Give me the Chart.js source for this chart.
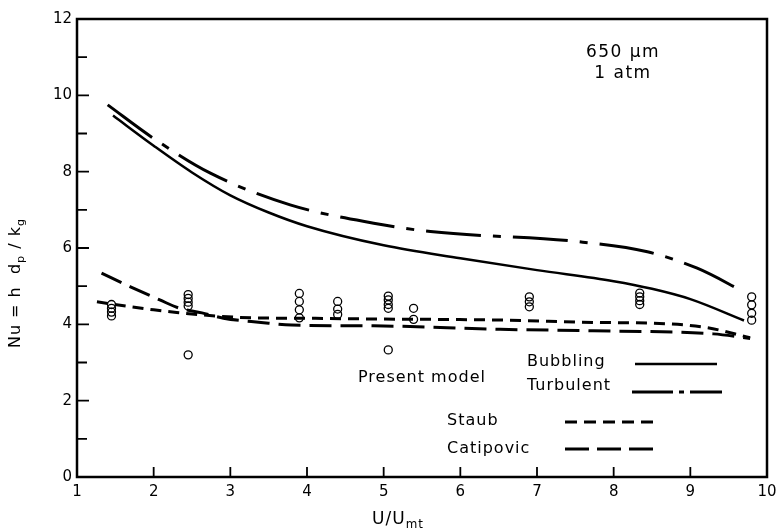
<!DOCTYPE html>
<html>
<head>
<meta charset="utf-8">
<script src="https://cdn.jsdelivr.net/npm/chart.js@4.4.0/dist/chart.umd.min.js"></script>
<style>
  html, body { margin: 0; padding: 0; background: #fff; }
  canvas { display: block; }
</style>
</head>
<body>
<canvas id="nuChart" width="776" height="530"></canvas>
<script>
// Nu vs U/Umf, 650 um particles at 1 atm

// present model, bubbling regime
const bubblingX = [1.47, 2.0, 2.5, 3.0, 3.5, 4.0, 5.0, 6.0, 7.0, 8.0, 8.5, 9.0, 9.7];
const bubblingY = [9.47, 8.68, 7.98, 7.38, 6.93, 6.57, 6.07, 5.73, 5.42, 5.13, 4.93, 4.66, 4.1];

// present model, turbulent regime
const turbulentX = [1.4, 2.0, 2.74, 3.78, 4.87, 5.61, 7.52, 8.44, 9.09, 9.7];
const turbulentY = [9.75, 8.87, 7.96, 7.13, 6.65, 6.43, 6.17, 5.9, 5.47, 4.85];

// Staub correlation
const staubX = [1.26, 1.7, 2.0, 2.3, 2.8, 3.3, 3.9, 4.87, 6.6, 7.73, 8.5, 9.2, 9.78];
const staubY = [4.59, 4.46, 4.38, 4.31, 4.22, 4.17, 4.16, 4.14, 4.11, 4.05, 4.03, 3.92, 3.65];

// Catipovic correlation
const catipovicX = [1.32, 1.69, 2.08, 2.34, 2.63, 2.91, 3.4, 3.8, 4.87, 6.52, 7.73, 9.3, 9.78];
const catipovicY = [5.34, 4.99, 4.64, 4.42, 4.3, 4.16, 4.05, 3.98, 3.96, 3.87, 3.83, 3.75, 3.63];

// measured points
const measuredX = [1.45, 1.45, 1.45, 1.45, 2.45, 2.45, 2.45, 2.45, 2.45,
  3.9, 3.9, 3.9, 3.9, 4.4, 4.4, 4.4, 5.06, 5.06, 5.06, 5.06, 5.06,
  5.39, 5.39, 6.9, 6.9, 6.9, 8.34, 8.34, 8.34, 8.34, 9.8, 9.8, 9.8, 9.8];
const measuredY = [4.22, 4.32, 4.42, 4.52, 4.48, 4.58, 4.68, 4.78, 3.2,
  4.81, 4.6, 4.38, 4.17, 4.6, 4.4, 4.26, 4.74, 4.64, 4.52, 4.42, 3.33,
  4.42, 4.13, 4.72, 4.59, 4.46, 4.82, 4.72, 4.62, 4.52, 4.72, 4.51, 4.29, 4.11];

// axis ticks
const xTickValues = [1, 2, 3, 4, 5, 6, 7, 8, 9, 10];
const yTickValues = [0, 1, 2, 3, 4, 5, 6, 7, 8, 9, 10, 11, 12];
const yLabelValues = [0, 2, 4, 6, 8, 10, 12];

const FONT = '"DejaVu Sans", sans-serif';

function pts(xs, ys) {
  return xs.map((x, i) => ({ x: x, y: ys[i] }));
}

function curve(label, xs, ys, dash, width) {
  return {
    label: label,
    data: pts(xs, ys),
    borderColor: "#000",
    borderWidth: width,
    borderDash: dash,
    borderCapStyle: "butt",
    cubicInterpolationMode: "monotone",
    pointRadius: 0,
    fill: false,
  };
}

// draws text runs, subscripts dropped a little and smaller
function richText(ctx, parts, x, y, size) {
  let cx = x;
  parts.forEach(p => {
    const s = p.sub ? size * 0.7 : size;
    ctx.font = s + "px " + FONT;
    ctx.fillText(p.t, cx, p.sub ? y + size * 0.3 : y);
    cx += ctx.measureText(p.t).width;
  });
  return cx - x;
}

function richWidth(ctx, parts, size) {
  let w = 0;
  parts.forEach(p => {
    ctx.font = (p.sub ? size * 0.7 : size) + "px " + FONT;
    w += ctx.measureText(p.t).width;
  });
  return w;
}

const axisDecor = {
  id: "axisDecor",
  beforeDatasetsDraw(chart) {
    const { ctx, chartArea: a, scales: { x, y } } = chart;
    ctx.save();
    ctx.strokeStyle = "#000";
    ctx.fillStyle = "#000";

    // frame
    ctx.lineWidth = 2.5;
    ctx.strokeRect(a.left, a.top, a.right - a.left, a.bottom - a.top);

    // inward ticks
    ctx.lineWidth = 1.8;
    ctx.beginPath();
    xTickValues.forEach(v => {
      const px = x.getPixelForValue(v);
      ctx.moveTo(px, a.bottom);
      ctx.lineTo(px, a.bottom - 10);
    });
    yTickValues.forEach(v => {
      const py = y.getPixelForValue(v);
      ctx.moveTo(a.left, py);
      ctx.lineTo(a.left + (v % 2 === 0 ? 12 : 10), py);
    });
    ctx.stroke();

    // tick labels
    ctx.font = "15px " + FONT;
    ctx.textBaseline = "middle";
    ctx.textAlign = "center";
    xTickValues.forEach(v => ctx.fillText(String(v), x.getPixelForValue(v), a.bottom + 15));
    ctx.textAlign = "right";
    yLabelValues.forEach(v => ctx.fillText(String(v), a.left - 5, y.getPixelForValue(v)));

    ctx.letterSpacing = "1px";
    ctx.textAlign = "left";

    // x title
    const xt = [{ t: "U/U" }, { t: "mt", sub: true }];
    richText(ctx, xt, 398 - richWidth(ctx, xt, 17) / 2, 520, 17);

    // y title
    const yt = [{ t: "Nu = h  d" }, { t: "p", sub: true }, { t: " / k" }, { t: "g", sub: true }];
    ctx.save();
    ctx.translate(16, 283);
    ctx.rotate(-Math.PI / 2);
    richText(ctx, yt, -richWidth(ctx, yt, 16) / 2, 0, 16);
    ctx.restore();

    // conditions
    ctx.textAlign = "center";
    ctx.letterSpacing = "1.5px";
    ctx.font = "17px " + FONT;
    ctx.fillText("650 \u03bcm", 623, 53);
    ctx.fillText("1 atm", 623, 74);
    ctx.restore();
  },
  afterDraw(chart) {
    const ctx = chart.ctx;
    ctx.save();
    ctx.fillStyle = "#000";
    ctx.strokeStyle = "#000";
    ctx.textBaseline = "middle";
    ctx.textAlign = "left";
    ctx.font = "16px " + FONT;
    ctx.letterSpacing = "1px";
    ctx.fillText("Present model", 358, 378);
    const keys = [
      { text: "Bubbling", tx: 527, ty: 362, x1: 635, x2: 717, ly: 364, dash: [], w: 2.5 },
      { text: "Turbulent", tx: 527, ty: 386, x1: 632, x2: 722, ly: 392, dash: [41, 6, 5, 6], w: 3 },
      { text: "Staub", tx: 447, ty: 421, x1: 565, x2: 653, ly: 422, dash: [12, 7], w: 3 },
      { text: "Catipovic", tx: 447, ty: 449, x1: 565, x2: 655, ly: 449, dash: [24, 8], w: 3 },
    ];
    keys.forEach(k => {
      ctx.fillText(k.text, k.tx, k.ty);
      ctx.lineWidth = k.w;
      ctx.setLineDash(k.dash);
      ctx.beginPath();
      ctx.moveTo(k.x1, k.ly);
      ctx.lineTo(k.x2, k.ly);
      ctx.stroke();
    });
    ctx.restore();
  },
};

new Chart(document.getElementById("nuChart"), {
  type: "line",
  data: {
    datasets: [
      curve("Bubbling", bubblingX, bubblingY, [], 2.5),
      curve("Turbulent", turbulentX, turbulentY, [55, 12, 8, 12], 3),
      curve("Staub", staubX, staubY, [11, 7], 3),
      curve("Catipovic", catipovicX, catipovicY, [22, 9], 3),
      {
        label: "Measured",
        data: pts(measuredX, measuredY),
        showLine: false,
        pointStyle: "circle",
        pointRadius: 4,
        pointBorderWidth: 1.3,
        pointBorderColor: "#000",
        pointBackgroundColor: "rgba(0,0,0,0)",
      },
    ],
  },
  options: {
    responsive: false,
    animation: false,
    layout: {
      padding: { left: 77, right: 9, top: 19, bottom: 53 },
    },
    plugins: {
      legend: { display: false },
      tooltip: { enabled: false },
    },
    scales: {
      x: { type: "linear", min: 1, max: 10, display: false },
      y: { type: "linear", min: 0, max: 12, display: false },
    },
  },
  plugins: [axisDecor],
});
</script>
</body>
</html>
